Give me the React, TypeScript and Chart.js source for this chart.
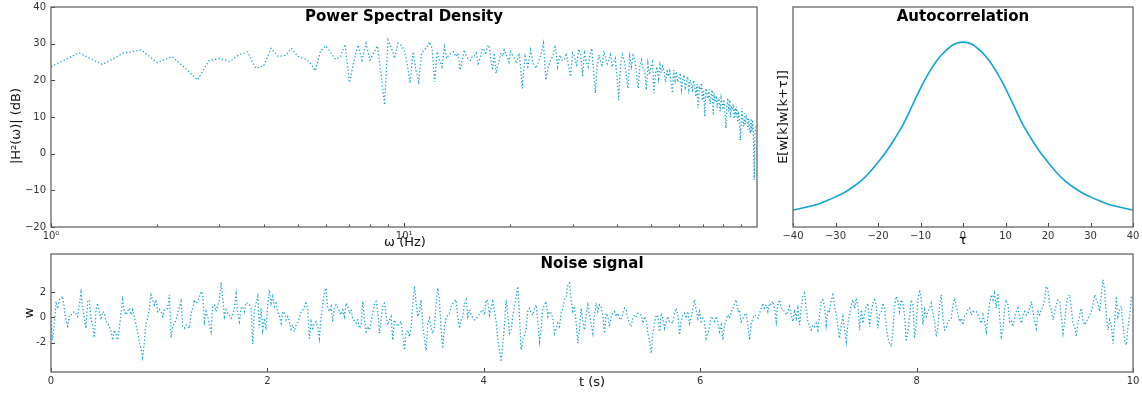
import React, { useEffect, useRef } from "react";
import { Chart, registerables } from "chart.js";

Chart.register(...registerables);

const FONT = "'DejaVu Sans', sans-serif";
const LINE_COLOR = "#12a2d8";

// ---------- Power spectral density ----------
const psdFreqA = [1.0,1.2,1.4,1.6,1.8,2.0,2.2,2.4,2.6,2.8,3.0,3.2,3.4,3.6,3.8,4.0,4.2,4.4,4.6,4.8,5.0,5.2,5.4,5.6,5.8,6.0,6.2,6.4,6.6,6.8,7.0,7.2,7.4,7.6,7.8,8.0,8.2,8.4,8.6,8.8,9.0,9.2,9.4,9.6,9.8];
const psdDbA = [23.7,27.5,24.3,27.4,28.3,24.8,26.5,23.3,20.1,25.4,26.0,25.1,26.9,27.8,23.3,23.9,28.7,26.5,26.8,28.7,26.5,26.0,25.0,22.6,28.0,29.4,27.5,25.7,26.5,29.8,19.4,25.0,29.6,25.5,30.1,25.5,27.5,29.4,22.0,13.3,31.0,29.0,26.0,30.1,29.6];

const psdFreqB = [10.0,10.2,10.4,10.6,10.8,11.0,11.2,11.4,11.6,11.8,12.0,12.2,12.4,12.6,12.8,13.0,13.2,13.4,13.6,13.8,14.0,14.2,14.4,14.6,14.8,15.0,15.2,15.4,15.6,15.8,16.0,16.2,16.4,16.6,16.8,17.0,17.2,17.4,17.6,17.8,18.0,18.2,18.4,18.6,18.8,19.0,19.2,19.4,19.6,19.8,20.0];
const psdDbB = [28.3,24.6,19.2,27.8,22.8,19.6,27.4,28.3,29.0,30.5,28.7,19.6,27.8,25.5,23.7,29.2,26.0,27.0,27.4,27.8,26.5,27.4,22.8,25.5,28.3,26.5,25.8,25.5,26.5,26.5,27.4,24.6,26.0,28.3,28.7,27.0,29.2,29.6,25.5,22.8,27.4,21.9,24.0,25.5,27.4,26.5,28.3,27.0,26.5,25.0,27.8];

const psdFreqC = [20.4,20.8,21.2,21.6,22.0,22.4,22.8,23.2,23.6,24.0,24.4,24.8,25.2,25.6,26.0,26.4,26.8,27.2,27.6,28.0,28.4,28.8,29.2,29.6,30.0,30.4,30.8,31.2,31.6,32.0,32.4,32.8,33.2,33.6,34.0,34.4,34.8,35.2,35.6,36.0,36.4,36.8,37.2,37.6,38.0,38.4,38.8,39.2,39.6,40.0];
const psdDbC = [26.5,24.6,27.4,17.8,26.5,23.7,28.3,24.6,23.3,25.1,27.0,30.1,20.1,23.7,25.5,27.0,29.6,23.7,26.9,25.5,25.5,27.4,24.0,21.0,27.4,26.5,23.7,28.5,27.0,21.0,27.4,25.0,23.7,27.0,28.7,22.0,16.5,24.0,26.9,25.0,23.7,28.0,26.0,24.5,25.5,27.5,23.7,25.0,26.0,22.0];

const psdFreqD = [40.5,41,41.5,42,42.5,43,43.5,44,44.5,45,45.5,46,46.5,47,47.5,48,48.5,49,49.5,50,50.5,51,51.5,52,52.5,53,53.5,54,54.5,55,55.5,56,56.5,57,57.5,58,58.5,59,59.5,60,60.5,61,61.5,62,62.5,63,63.5,64,64.5,65,65.5,66,66.5,67,67.5,68,68.5,69,69.5,70,70.5,71,71.5,72,72.5,73,73.5,74,74.5,75,75.5,76,76.5,77,77.5,78,78.5,79,79.5,80,80.5,81,81.5,82,82.5,83,83.5,84,84.5,85,85.5,86,86.5,87,87.5,88,88.5,89,89.5,90,90.5,91,91.5,92,92.5,93,93.5,94,94.5,95,95.5,96,96.5,97,97.5,98,98.5,99];
const psdDbD = [14.6,24.6,27.0,25.5,22.0,17.8,26.5,23.7,26.8,25.5,21.5,17.8,24.0,25.5,23.0,22.8,17.4,24.5,21.5,23.7,25.0,16.5,22.0,23.7,20.5,24.2,22.0,23.8,22.4,19.5,23.0,21.0,22.5,19.0,16.5,22.8,20.0,22.4,19.5,20.5,22.0,17.5,20.1,21.5,18.0,19.2,21.0,17.5,20.1,19.5,16.8,20.0,18.7,15.5,19.0,12.4,18.0,17.4,19.2,14.5,17.0,10.1,17.8,16.5,15.0,17.5,13.5,16.0,17.4,10.5,15.5,14.0,15.8,12.5,15.0,14.6,11.5,15.2,13.7,12.0,14.8,11.0,6.9,13.0,15.1,11.5,14.6,10.0,13.0,11.9,13.5,9.5,12.5,10.1,12.8,8.5,11.5,9.2,3.7,8.0,12.4,9.0,7.4,11.0,8.0,10.5,10.1,6.5,9.5,7.5,5.6,9.6,6.0,9.2,5.5,-7.2,5.0,7.4];

const psdFreq = [...psdFreqA, ...psdFreqB, ...psdFreqC, ...psdFreqD];
const psdDb = [...psdDbA, ...psdDbB, ...psdDbC, ...psdDbD];
const psdTickValues = [1,2,3,4,5,6,7,8,9,10,20,30,40,50,60,70,80,90];
const psdMajorTicks = [1, 10];
const psdMajorLabels: Record<number, string> = { 1: "10\u2070", 10: "10\u00b9" };

// ---------- Autocorrelation ----------
const acTau = [-40,-38,-36,-34,-32,-30,-28,-26,-24,-22,-20,-18,-16,-14,-12,-10,-8,-6,-4,-2,0,2,4,6,8,10,12,14,16,18,20,22,24,26,28,30,32,34,36,38,40];
const acValue = [0.092,0.101,0.112,0.125,0.143,0.163,0.185,0.215,0.25,0.295,0.35,0.41,0.48,0.558,0.654,0.75,0.835,0.905,0.955,0.99,1.0,0.99,0.955,0.905,0.835,0.75,0.654,0.558,0.48,0.41,0.35,0.295,0.25,0.215,0.185,0.163,0.143,0.125,0.112,0.101,0.092];

// ---------- Noise signal (uniformly sampled over 0..10 s) ----------
const signalDuration = 10;
const signalPart1 = [-0.3,-1.8,-0.6,1.27,0.7,1.4,1.5,1.7,0.7,-0.3,-0.7,0.2,0.2,0.3,0.47,0.3,0.07,1.0,2.0,0.73,0.0,-0.87,1.27,1.4,-0.2,-0.6,-1.6,0.6,1.13,0.4,-0.2,0.47,0.33,-0.33,-0.45,-0.73,-1.13,-1.8,-1.0,-1.3,-1.8,-0.8,0.3,1.4,0.47,0.2,0.5,0.73,0.2,0.6,0.0,-0.6,-1.13,-2.0,-2.47,-3.19,-2.0,-0.5,-0.07,0.73,1.8,1.4,1.0,1.4,0.47,0.65,0.47,0.07,0.6,0.65,0.73,1.8,-1.6,-0.8,-0.47,-0.2,0.33,0.8,1.27,-0.73,-0.87,-0.6,-0.7,-0.87,0.3,0.73,1.4,1.13,1.27,1.6,2.07,1.8,-0.33,0.47,0.07,-0.6,-1.13,0.87,1.0,0.47,1.0,1.4,2.79,1.53,0.07,0.6,0.33,0.2,-0.07,0.2,0.73,1.88,0.33,-0.33,0.73,0.87,0.47,1.19,1.1,1.0,0.73,-2.12,0.5,1.13,1.67,-0.87,0.73,-1.0,-0.07,-1.0,1.0,2.2,1.13,1.67,0.87,1.13,0.47,0.07,-0.47,0.47,0.33,-0.2,0.07,-0.4,-0.95,-0.6,-1.13,-0.6,-0.3,-0.07,0.47,0.6,0.87,1.27,0.6,-1.67,-0.33,-0.87,-0.5,-0.33,-0.73,-1.67];
const signalPart2 = [0.07,1.0,2.07,2.33,0.73,0.47,0.87,-0.33,0.73,1.0,0.73,0.45,0.2,0.6,0.07,1.13,0.87,0.33,0.6,-0.07,-0.27,-0.47,-0.2,-0.87,-0.6,1.27,-0.2,-1.13,-0.73,-1.0,-0.35,0.33,1.13,1.27,0.47,-1.27,-0.2,1.0,1.13,0.2,-0.6,-0.2,0.07,-1.8,-0.2,-0.47,-0.73,-0.5,-0.33,-1.4,-2.6,-1.27,-1.0,-1.53,-0.73,1.0,2.47,1.13,0.07,0.47,1.4,-0.73,-1.7,-2.6,-0.47,-0.07,-0.87,-1.27,-0.73,1.13,2.33,1.4,-1.0,-2.47,-0.73,-0.07,0.2,0.33,0.87,1.1,1.27,1.4,0.07,-0.87,-0.2,0.07,1.13,1.4,0.07,0.6,0.2,0.0,-0.2,-0.1,0.07,0.27,0.47,0.6,0.2,1.4,1.27,0.2,0.73,1.27,0.47,-0.33,-1.8,-2.6,-3.53,-2.2,-0.6,1.4,0.2,-1.27,-1.0,0.07,0.87,1.67,2.47,0.07,-2.6,-1.8,-1.4,-0.87,0.6,0.73,0.33,0.2,0.73,1.0,-0.33,-1.93,-1.0,0.73,1.0,1.27,0.07,0.47,0.33,-0.07,-1.27,-0.87,-0.47,-0.73,0.33,0.73,1.4,1.67,2.6,2.73,1.4,0.47,0.87,-0.47,-2.07,-0.87,0.73,-0.33,-1.0,0.2,1.0,0.2];
const signalPart3 = [-0.6,-1.27,0.2,1.13,0.47,1.0,0.87,0.07,-1.27,0.33,0.07,-0.73,0.07,0.33,0.47,0.07,0.33,-0.07,-0.2,0.33,0.73,0.6,-0.07,-0.47,-0.73,-0.07,0.2,0.07,0.33,0.2,0.2,-0.47,0.07,-0.2,-1.27,-1.8,-2.87,-1.27,-0.47,0.2,0.07,-1.13,0.33,-0.07,-0.87,-0.33,0.07,-0.33,-0.33,-0.47,0.33,0.73,0.2,-1.4,-0.33,0.2,0.33,-0.07,0.47,-0.47,-0.07,0.73,1.4,0.6,-0.07,0.47,-0.33,-0.07,-0.33,-1.67,-1.27,-0.73,0.07,-0.07,-0.33,0.07,-0.33,-1.13,-0.6,-1.8,-0.6,-0.2,0.2,-0.07,0.47,0.6,1.13,1.4,0.47,0.6,-0.33,-0.07,0.2,0.33,-0.73,-1.8,-0.47,-0.07,0.2,0.07,-0.07,0.33,0.73,1.13,0.73,1.0,0.47,1.13,1.0,1.27,0.73,-0.33,1.13,1.4,0.73,0.6,0.47,0.2,0.47,0.87,0.2,-0.33,0.6,-0.07,0.73,-0.6,0.73,1.67,1.93,0.73,-0.33,-0.73,-1.0,-0.6,-0.73,-0.47,-1.0,0.2,1.27,1.4,0.87,-0.6,0.6,0.47,1.4,1.8,1.0,0.2,-0.73,-1.67,-0.6,0.07,-1.0,-1.93,-0.47,0.33,1.0,1.4,0.73,1.53,0.87,-1.0];
const signalPart4 = [0.6,-0.47,0.33,0.87,1.13,-0.73,0.47,1.13,1.4,1.0,-0.87,0.2,0.47,1.13,0.73,-0.73,-1.67,-2.07,-2.33,-1.13,1.0,1.67,1.27,0.47,1.4,1.13,0.07,-1.93,-1.13,0.07,1.4,1.0,-1.67,-0.6,1.4,2.2,1.4,-0.6,0.6,0.07,0.47,0.73,1.13,0.33,-0.33,-1.53,-0.73,1.0,1.8,-0.07,-1.0,-0.87,-0.33,-0.2,-0.07,1.0,1.53,0.87,0.2,-0.33,-0.07,-0.6,0.07,0.2,0.6,0.73,0.2,0.47,0.47,0.47,0.2,-0.2,-0.47,0.2,-0.33,-1.13,0.07,1.13,1.8,1.4,1.93,0.73,1.93,0.07,-1.53,-1.0,0.73,1.4,1.0,-0.33,-0.2,-0.73,-0.07,0.47,0.73,0.07,-0.47,0.2,0.47,0.2,0.33,0.73,1.27,0.47,-0.33,-0.87,0.47,0.2,0.6,0.87,1.4,2.47,2.2,1.0,0.6,-0.2,0.47,1.0,1.4,1.27,0.07,-1.27,-0.33,1.0,1.67,1.8,0.73,-0.47,-0.73,-1.53,-0.47,0.2,0.73,-0.2,-0.6,-0.33,-0.07,0.2,0.47,1.0,1.8,1.4,1.13,0.47,1.8,3.0,2.2,0.2,-1.0,-0.2,-0.6,-2.07,-0.47,1.67,0.07,0.6,0.87,-0.6,-1.8,-2.2,-0.73,0.07,1.67,1.53];
const signalValues = [...signalPart1, ...signalPart2, ...signalPart3, ...signalPart4];
const signalYTicks = [-2, 0, 2];
const signalXTickStep = 2;

// ---------- helpers ----------
const minusLabel = (v: number) => (v < 0 ? "\u2212" + Math.abs(v) : String(v));
const TICK_FONT = { family: FONT, size: 10 };
const TICK_COLOR = "#333";

const zeroPadding = (s: any) => {
  s.paddingTop = 0;
  s.paddingBottom = 0;
  s.paddingLeft = 0;
  s.paddingRight = 0;
};

const decorPlugin = {
  id: "decor",
  afterDraw(chart: any, _args: any, o: any) {
    const ctx = chart.ctx;
    const a = chart.chartArea;
    ctx.save();
    ctx.strokeStyle = "#444";
    ctx.lineWidth = 1;
    (o.marks || []).forEach((m: any) => {
      const s = chart.scales[m.axis];
      s.ticks.forEach((t: any) => {
        const len = t.minor ? m.minor : m.major;
        const p = Math.round(s.getPixelForValue(t.value)) + 0.5;
        ctx.beginPath();
        if (m.axis === "x") {
          ctx.moveTo(p, a.bottom);
          ctx.lineTo(p, a.bottom - len);
        } else {
          ctx.moveTo(a.left, p);
          ctx.lineTo(a.left + len, p);
        }
        ctx.stroke();
      });
    });
    ctx.strokeStyle = o.frameColor || "#666";
    ctx.lineWidth = o.frameWidth || 1.3;
    ctx.strokeRect(a.left, a.top, a.right - a.left, a.bottom - a.top);
    (o.texts || []).forEach((t: any) => {
      ctx.save();
      ctx.font = `${t.bold ? "bold " : ""}${t.size}px ${FONT}`;
      ctx.fillStyle = t.color || "#111";
      ctx.textAlign = "center";
      ctx.textBaseline = "middle";
      ctx.translate(t.x, t.y);
      if (t.rotate) ctx.rotate(t.rotate);
      ctx.fillText(t.text, 0, 0);
      ctx.restore();
    });
    ctx.restore();
  },
};

const baseOptions = {
  responsive: false,
  animation: false as const,
  devicePixelRatio: 1,
  events: [] as any[],
};

function psdConfig(): any {
  return {
    type: "line",
    data: {
      datasets: [
        {
          data: psdFreq.map((f, i) => ({ x: f, y: psdDb[i] })),
          borderColor: LINE_COLOR,
          borderWidth: 1.3,
          borderDash: [1.3, 2.2],
          pointRadius: 0,
          fill: false,
          tension: 0,
        },
      ],
    },
    options: {
      ...baseOptions,
      layout: { padding: { top: 7, right: 13, left: 0, bottom: 0 } },
      plugins: {
        legend: { display: false },
        tooltip: { enabled: false },
        decor: {
          marks: [
            { axis: "x", major: 4, minor: 2.5 },
            { axis: "y", major: 4, minor: 2.5 },
          ],
          texts: [
            { text: "Power Spectral Density", x: 404, y: 17, size: 15, bold: true, color: "#000" },
            { text: "|H\u00b2(\u03c9)| (dB)", x: 17, y: 126, size: 13, rotate: -Math.PI / 2 },
            { text: "\u03c9 (Hz)", x: 405, y: 243, size: 13 },
          ],
        },
      },
      scales: {
        x: {
          type: "logarithmic",
          min: 1,
          max: 99.8,
          grid: { display: false, drawTicks: false },
          border: { display: false },
          afterFit: (s: any) => { s.height = 23; zeroPadding(s); },
          afterBuildTicks: (s: any) => {
            s.ticks = psdTickValues.map((v) => ({ value: v, minor: !psdMajorTicks.includes(v) }));
          },
          ticks: {
            font: TICK_FONT,
            color: TICK_COLOR,
            padding: 3,
            autoSkip: false,
            maxRotation: 0,
            callback: (v: any) => psdMajorLabels[v] || "",
          },
        },
        y: {
          min: -20,
          max: 40,
          grid: { display: false, drawTicks: false },
          border: { display: false },
          afterFit: (s: any) => { s.width = 51; zeroPadding(s); },
          ticks: { stepSize: 10, font: TICK_FONT, color: TICK_COLOR, padding: 5, callback: (v: any) => minusLabel(v) },
        },
      },
    },
    plugins: [decorPlugin],
  };
}

function acConfig(): any {
  return {
    type: "line",
    data: {
      datasets: [
        {
          data: acTau.map((t, i) => ({ x: t, y: acValue[i] })),
          borderColor: LINE_COLOR,
          borderWidth: 1.6,
          pointRadius: 0,
          fill: false,
          cubicInterpolationMode: "monotone",
        },
      ],
    },
    options: {
      ...baseOptions,
      layout: { padding: { top: 7, right: 9, left: 0, bottom: 0 } },
      plugins: {
        legend: { display: false },
        tooltip: { enabled: false },
        decor: {
          marks: [{ axis: "x", major: 4, minor: 2 }],
          texts: [
            { text: "Autocorrelation", x: 193, y: 17, size: 15, bold: true, color: "#000" },
            { text: "E[w[k]w[k+\u03c4]]", x: 14, y: 117, size: 13, rotate: -Math.PI / 2 },
            { text: "\u03c4", x: 193, y: 241, size: 13 },
          ],
        },
      },
      scales: {
        x: {
          type: "linear",
          min: -40,
          max: 40,
          grid: { display: false, drawTicks: false },
          border: { display: false },
          afterFit: (s: any) => { s.height = 23; zeroPadding(s); },
          ticks: { stepSize: 10, font: TICK_FONT, color: TICK_COLOR, padding: 3, maxRotation: 0, callback: (v: any) => minusLabel(v) },
        },
        y: {
          min: 0,
          max: 1.19,
          grid: { display: false, drawTicks: false },
          border: { display: false },
          afterFit: (s: any) => { s.width = 23; zeroPadding(s); },
          ticks: { display: false },
        },
      },
    },
    plugins: [decorPlugin],
  };
}

function signalConfig(): any {
  const step = signalDuration / (signalValues.length - 1);
  return {
    type: "line",
    data: {
      datasets: [
        {
          data: signalValues.map((v, i) => ({ x: i * step, y: v })),
          borderColor: LINE_COLOR,
          borderWidth: 1.3,
          borderDash: [1.3, 2.2],
          pointRadius: 0,
          fill: false,
          tension: 0,
        },
      ],
    },
    options: {
      ...baseOptions,
      layout: { padding: { top: 4, right: 9, left: 0, bottom: 0 } },
      plugins: {
        legend: { display: false },
        tooltip: { enabled: false },
        decor: {
          marks: [
            { axis: "x", major: 4, minor: 2 },
            { axis: "y", major: 4, minor: 2 },
          ],
          texts: [
            { text: "Noise signal", x: 592, y: 14, size: 15, bold: true, color: "#000" },
            { text: "w", x: 30, y: 63, size: 13, rotate: -Math.PI / 2 },
            { text: "t (s)", x: 592, y: 133, size: 13 },
          ],
        },
      },
      scales: {
        x: {
          type: "linear",
          min: 0,
          max: signalDuration,
          grid: { display: false, drawTicks: false },
          border: { display: false },
          afterFit: (s: any) => { s.height = 25; zeroPadding(s); },
          ticks: { stepSize: signalXTickStep, font: TICK_FONT, color: TICK_COLOR, padding: 3, maxRotation: 0 },
        },
        y: {
          min: -4.35,
          max: 5.05,
          grid: { display: false, drawTicks: false },
          border: { display: false },
          afterFit: (s: any) => { s.width = 51; zeroPadding(s); },
          afterBuildTicks: (s: any) => { s.ticks = signalYTicks.map((v) => ({ value: v })); },
          ticks: { font: TICK_FONT, color: TICK_COLOR, padding: 5, callback: (v: any) => String(v) },
        },
      },
    },
    plugins: [decorPlugin],
  };
}

export default function App() {
  const psdRef = useRef<HTMLCanvasElement>(null);
  const acRef = useRef<HTMLCanvasElement>(null);
  const sigRef = useRef<HTMLCanvasElement>(null);

  useEffect(() => {
    const charts = [
      new Chart(psdRef.current as HTMLCanvasElement, psdConfig()),
      new Chart(acRef.current as HTMLCanvasElement, acConfig()),
      new Chart(sigRef.current as HTMLCanvasElement, signalConfig()),
    ];
    return () => charts.forEach((c) => c.destroy());
  }, []);

  return (
    <div style={{ position: "absolute", left: 0, top: 0, width: 1142, height: 397, background: "#fff" }}>
      <canvas ref={psdRef} width={770} height={250} style={{ position: "absolute", left: 0, top: 0, width: 770, height: 250 }} />
      <canvas ref={acRef} width={372} height={250} style={{ position: "absolute", left: 770, top: 0, width: 372, height: 250 }} />
      <canvas ref={sigRef} width={1142} height={147} style={{ position: "absolute", left: 0, top: 250, width: 1142, height: 147 }} />
    </div>
  );
}
